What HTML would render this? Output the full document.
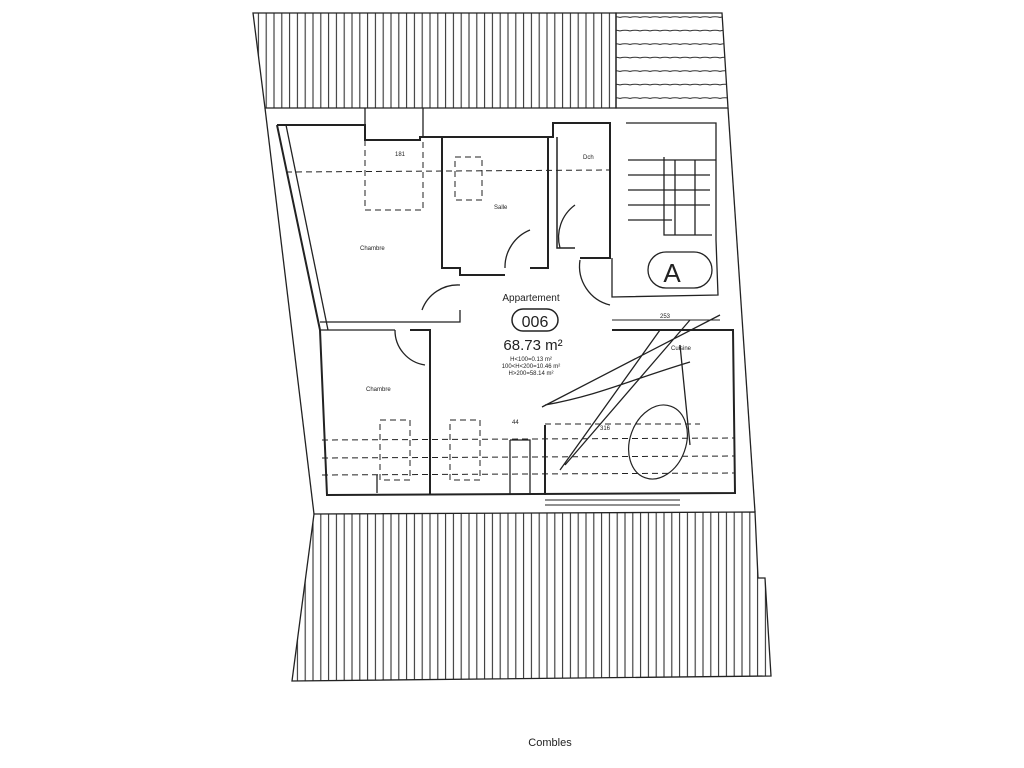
<!DOCTYPE html>
<html><head><meta charset="utf-8"><style>
html,body{margin:0;padding:0;background:#fff;width:1024px;height:768px;overflow:hidden}
text{font-family:"Liberation Sans",sans-serif;fill:#222}
</style></head><body>
<svg width="1024" height="768" viewBox="0 0 1024 768" xmlns="http://www.w3.org/2000/svg">
<defs>
<pattern id="vh" width="7.8" height="10" patternUnits="userSpaceOnUse">
<line x1="1" y1="0" x2="1" y2="10" stroke="#333" stroke-width="1.1"/>
</pattern>
<pattern id="hh" width="10" height="13.5" patternUnits="userSpaceOnUse">
<path d="M0 4 q5 -1.5 10 0" stroke="#333" stroke-width="1.1" fill="none"/>
</pattern>
</defs>
<g fill="none" stroke="#222" stroke-width="1.3">
<!-- top roof hatch -->
<polygon points="253,13 616,13 616,108 265,108" fill="url(#vh)"/>
<polygon points="616,13 722,13 728,108 616,108" fill="url(#hh)"/>
<!-- bottom roof hatch -->
<polygon points="314,514 755,512 758,578 765,578 771,676 292,681" fill="url(#vh)"/>
<!-- outer envelope -->
<path d="M265,108 L314,514"/>
<path d="M728,108 L755,512"/>
<!-- inner apartment walls -->
<path d="M277,125 L320,330 L327,495 L735,493 L733,330 L612,330" stroke-width="2"/>
<path d="M286,125 L328,330" />
<path d="M277,125 L365,125 L365,140 L420,140 L420,137 L442,137 L442,268 L460,268 L460,275 L505,275" stroke-width="2"/>
<path d="M442,137 L553,137 L553,123 L610,123 L610,258 L580,258" stroke-width="2"/>
<path d="M548,137 L548,268 L530,268" stroke-width="2"/>
<path d="M557,137 L557,248 L575,248" stroke-width="1.5"/>
<path d="M365,108 L365,140 M423,108 L423,137"/>
<path d="M320,322 L460,322 L460,310 M320,330 L395,330"/>
<path d="M410,330 L430,330 L430,495" stroke-width="2"/>
<path d="M377,475 L377,493"/>
<path d="M510,440 L530,440 L530,495 M510,440 L510,495"/>
<path d="M545,425 L545,495" stroke-width="2"/>
<!-- stair box -->
<path d="M626,123 L716,123 L716,240 L718,295 L612,297 L612,258" />
<path d="M628,160 L716,160 M628,175 L710,175 M628,190 L710,190 M628,205 L710,205 M628,220 L672,220"/>
<path d="M664,157 L664,235 L712,235 M675,160 L675,235 M695,160 L695,235"/>
<rect x="648" y="252" width="64" height="36" rx="18"/>
<!-- doors -->
<path d="M505,268 A40,40 0 0 1 530,230" />
<path d="M460,285 A38,38 0 0 0 422,310"/>
<path d="M395,330 A35,35 0 0 0 425,365"/>
<path d="M575,205 A40,40 0 0 0 560,248"/>
<path d="M580,260 A40,40 0 0 0 610,305"/>
<!-- dashed stuff -->
<g stroke-dasharray="6,4" stroke-width="1">
<path d="M286,172 L610,170"/>
<path d="M365,140 L365,210 L423,210 L423,140"/>
<path d="M455,157 L482,157 L482,200 L455,200 Z"/>
<path d="M322,440 L735,438 M322,458 L735,456 M322,475 L735,473"/>
<path d="M380,420 L410,420 L410,480 L380,480 Z M450,420 L480,420 L480,480 L450,480 Z"/>
<path d="M545,424 L700,424"/>
</g>
<path d="M612,320 L720,320" stroke-width="1"/>
<path d="M545,500 L680,500 M545,505 L680,505" stroke-width="1"/>
<!-- scribbles -->
<path d="M560,470 L660,330 M565,465 L690,320 M542,407 L720,315 M545,405 C600,395 630,380 690,362 M680,345 L690,445" stroke-width="1.3"/>
<ellipse cx="658" cy="442" rx="28" ry="38" transform="rotate(20 658 442)" stroke-width="1.2"/>
<rect x="512" y="309" width="46" height="22" rx="11" stroke-width="1.5"/>
</g>
<text x="672" y="282" font-size="26" text-anchor="middle">A</text>
<text x="531" y="301" font-size="10" text-anchor="middle">Appartement</text>
<text x="535" y="327" font-size="16" text-anchor="middle">006</text>
<text x="533" y="350" font-size="15" text-anchor="middle">68.73 m²</text>
<text x="531" y="361" font-size="6" text-anchor="middle">H&lt;100=0.13 m²</text>
<text x="531" y="368" font-size="6" text-anchor="middle">100&lt;H&lt;200=10.46 m²</text>
<text x="531" y="375" font-size="6" text-anchor="middle">H&gt;200=58.14 m²</text>
<text x="360" y="250" font-size="6">Chambre</text>
<text x="366" y="391" font-size="6">Chambre</text>
<text x="494" y="209" font-size="6">Salle</text>
<text x="583" y="159" font-size="6">Dch</text>
<text x="671" y="350" font-size="6">Cuisine</text>
<text x="395" y="156" font-size="6">181</text>
<text x="512" y="424" font-size="6">44</text>
<text x="660" y="318" font-size="6">253</text>
<text x="600" y="430" font-size="6">316</text>
<text x="550" y="746" font-size="11" text-anchor="middle">Combles</text>
</svg>
</body></html>
